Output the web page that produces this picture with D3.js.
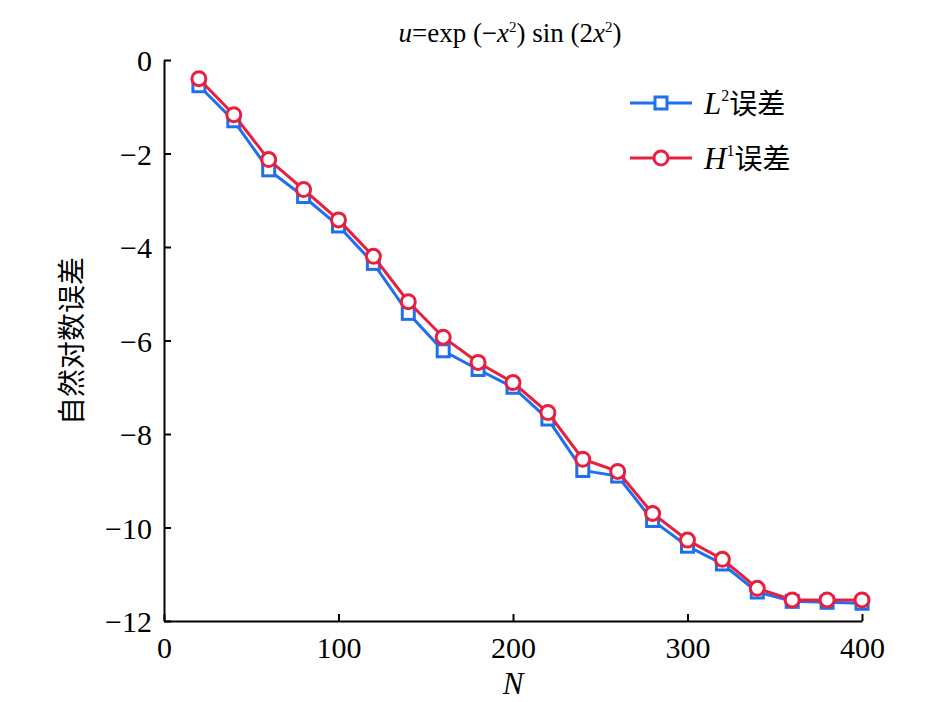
<html>
<head>
  <script src="https://d3js.org/d3.v7.min.js"></script>
</head>
<style>
  body { margin: 0; background: white; }
  text { font-family: "Liberation Serif", "Noto Sans CJK SC", serif; }
</style>
<body>
  <svg id="chart" width="945" height="702"></svg>
  <script>
    const nValues = [20, 40, 60, 80, 100, 120, 140, 160, 180, 200, 220, 240, 260, 280, 300, 320, 340, 360, 380, 400];
    const l2Err = [-0.55, -1.3, -2.35, -2.92, -3.55, -4.35, -5.42, -6.22, -6.62, -7.0, -7.68, -8.78, -8.9, -9.85, -10.4, -10.78, -11.38, -11.58, -11.6, -11.62];
    const h1Err = [-0.4, -1.17, -2.13, -2.77, -3.42, -4.2, -5.17, -5.93, -6.47, -6.9, -7.54, -8.54, -8.8, -9.7, -10.27, -10.68, -11.3, -11.55, -11.55, -11.55];
    const xTicks = [0, 100, 200, 300, 400];
    const yTicks = [0, -2, -4, -6, -8, -10, -12];

    const svg = d3.select("svg#chart");
    const margin = { top: 60, left: 164, right: 83, bottom: 81 };
    const chartWidth = 945 - margin.left - margin.right;
    const chartHeight = 702 - margin.top - margin.bottom;

    const xScale = d3.scaleLinear().domain([0, 400]).range([0, chartWidth]);
    const yScale = d3.scaleLinear().domain([-12, 0]).range([chartHeight, 0]);

    const g = svg.append("g").attr("transform", `translate(${margin.left},${margin.top})`);

    const bottomAxis = d3.axisBottom(xScale).tickValues(xTicks).tickSizeInner(-7).tickSizeOuter(0).tickPadding(16).tickFormat(d3.format("d"));
    const leftAxis = d3.axisLeft(yScale).tickValues(yTicks).tickSizeInner(-7).tickSizeOuter(0).tickPadding(12)
      .tickFormat(d => d < 0 ? "\u2212" + Math.abs(d) : d);

    const xa = g.append("g").attr("transform", `translate(0,${chartHeight})`).call(bottomAxis);
    const ya = g.append("g").call(leftAxis);
    [xa, ya].forEach(a => {
      a.attr("font-size", null).attr("font-family", null);
      a.selectAll("path, line").attr("stroke", "black").attr("stroke-width", 2);
      a.selectAll("text").style("font-size", "30px").attr("fill", "black")
        .style("font-family", "Liberation Serif");
    });
    ya.selectAll("text").attr("dy", "0.35em");

    const series = [
      { vals: l2Err, color: "#1f6fef", shape: "square" },
      { vals: h1Err, color: "#e8203f", shape: "circle" }
    ];
    const line = d3.line().x((d, i) => xScale(nValues[i])).y(d => yScale(d));

    series.forEach(s => {
      g.append("path").datum(s.vals).attr("d", line)
        .attr("fill", "none").attr("stroke", s.color).attr("stroke-width", 3);
      if (s.shape === "square") {
        g.selectAll(null).data(s.vals).enter().append("rect")
          .attr("x", (d, i) => xScale(nValues[i]) - 6).attr("y", d => yScale(d) - 6)
          .attr("width", 12).attr("height", 12)
          .attr("fill", "white").attr("stroke", s.color).attr("stroke-width", 3);
      } else {
        g.selectAll(null).data(s.vals).enter().append("circle")
          .attr("cx", (d, i) => xScale(nValues[i])).attr("cy", d => yScale(d)).attr("r", 7)
          .attr("fill", "white").attr("stroke", s.color).attr("stroke-width", 3);
      }
    });

    // legend
    const legend = svg.append("g").attr("transform", "translate(630,103)");
    series.forEach((s, i) => {
      const row = legend.append("g").attr("transform", `translate(0,${i * 55})`);
      row.append("line").attr("x1", 0).attr("x2", 62).attr("stroke", s.color).attr("stroke-width", 3);
      if (s.shape === "square") {
        row.append("rect").attr("x", 25).attr("y", -6).attr("width", 12).attr("height", 12)
          .attr("fill", "white").attr("stroke", s.color).attr("stroke-width", 3);
      } else {
        row.append("circle").attr("cx", 31).attr("r", 7)
          .attr("fill", "white").attr("stroke", s.color).attr("stroke-width", 3);
      }
      const t = row.append("text").attr("x", 74).attr("y", 11).attr("font-size", 31);
      t.append("tspan").attr("font-style", "italic").text(i === 0 ? "L" : "H");
      t.append("tspan").attr("font-size", 16).attr("dy", -13).text(i === 0 ? "2" : "1");
      t.append("tspan").attr("dy", 13).style("font-family", "Noto Sans CJK SC").attr("font-size", 28).text("误差");
    });

    // title
    const title = svg.append("text").attr("x", 510).attr("y", 42).attr("text-anchor", "middle").attr("font-size", 27);
    title.append("tspan").attr("font-style", "italic").text("u");
    title.append("tspan").text("=exp (\u2212");
    title.append("tspan").attr("font-style", "italic").text("x");
    title.append("tspan").attr("font-size", 15).attr("dy", -10).text("2");
    title.append("tspan").attr("dy", 10).text(") sin (2");
    title.append("tspan").attr("font-style", "italic").text("x");
    title.append("tspan").attr("font-size", 15).attr("dy", -10).text("2");
    title.append("tspan").attr("dy", 10).text(")");

    // axis labels
    svg.append("text").attr("x", margin.left + xScale(200)).attr("y", 694).attr("text-anchor", "middle")
      .attr("font-size", 31).attr("font-style", "italic").text("N");
    svg.append("text").attr("transform", "translate(82,341) rotate(-90)").attr("text-anchor", "middle")
      .attr("font-size", 28).style("font-family", "Noto Sans CJK SC").text("自然对数误差");
  </script>
</body>
</html>
